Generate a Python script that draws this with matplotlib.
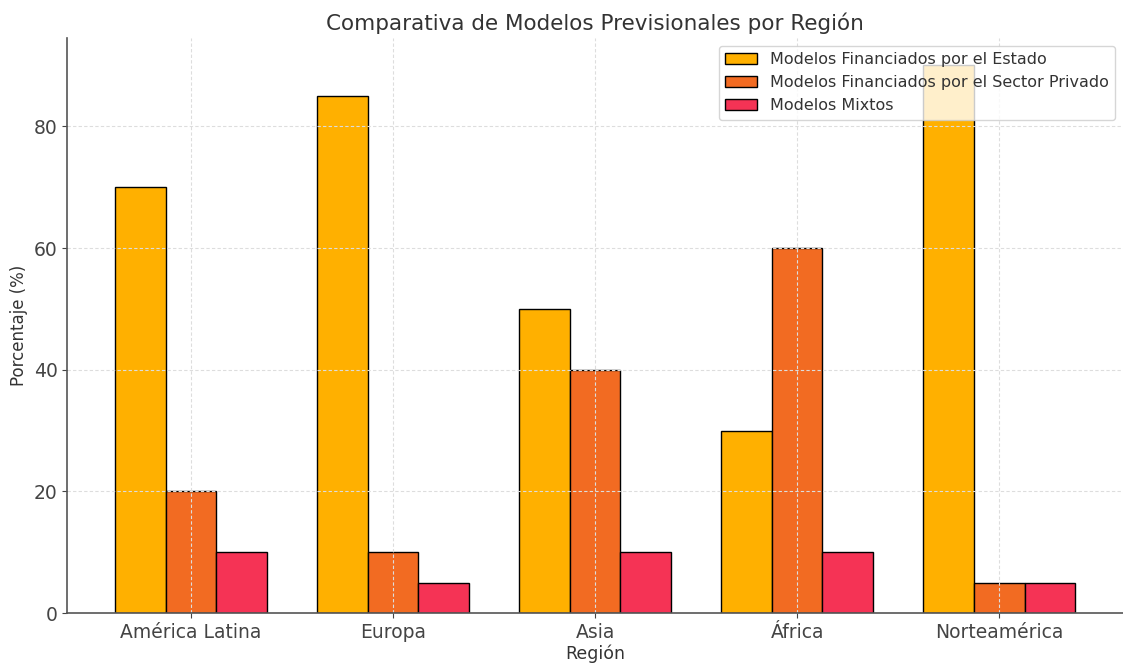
import matplotlib.pyplot as plt
import numpy as np

regiones = ["América Latina", "Europa", "Asia", "África", "Norteamérica"]
estado = [70, 85, 50, 30, 90]
privado = [20, 10, 40, 60, 5]
mixtos = [10, 5, 10, 10, 5]

series = [
    (estado, "Modelos Financiados por el Estado", "#FFB000"),
    (privado, "Modelos Financiados por el Sector Privado", "#F26B22"),
    (mixtos, "Modelos Mixtos", "#F53355"),
]

plt.rcParams['text.color'] = '#333333'
plt.rcParams['axes.labelcolor'] = '#333333'
plt.rcParams['xtick.color'] = '#333333'
plt.rcParams['ytick.color'] = '#333333'

fig = plt.figure(figsize=(11.23, 6.68), dpi=100)
ax = fig.add_axes([0.06, 0.082, 0.94, 0.861])

x = np.arange(len(regiones))
width = 0.25
for i, (vals, label, color) in enumerate(series):
    ax.bar(x + (i - 1) * width, vals, width, label=label, color=color,
           edgecolor='black', linewidth=1)

ax.set_xticks(x)
ax.set_xticklabels(regiones, fontsize=13.5)
ax.tick_params(axis='y', labelsize=13.5)
ax.tick_params(colors='#444444')
ax.set_xlabel("Región", fontsize=12.5, labelpad=2)
ax.set_ylabel("Porcentaje (%)", fontsize=12)
ax.set_title("Comparativa de Modelos Previsionales por Región", fontsize=15.5)

ax.grid(True, linestyle=(0, (3, 2)), color='#dddddd', linewidth=0.8)
for s in ['top', 'right']:
    ax.spines[s].set_visible(False)
for s in ['left', 'bottom']:
    ax.spines[s].set_color('#555555')
    ax.spines[s].set_linewidth(1.2)

ax.legend(loc='upper right', fontsize=11.5, framealpha=0.8)

fig.savefig("out.png", dpi=100)
